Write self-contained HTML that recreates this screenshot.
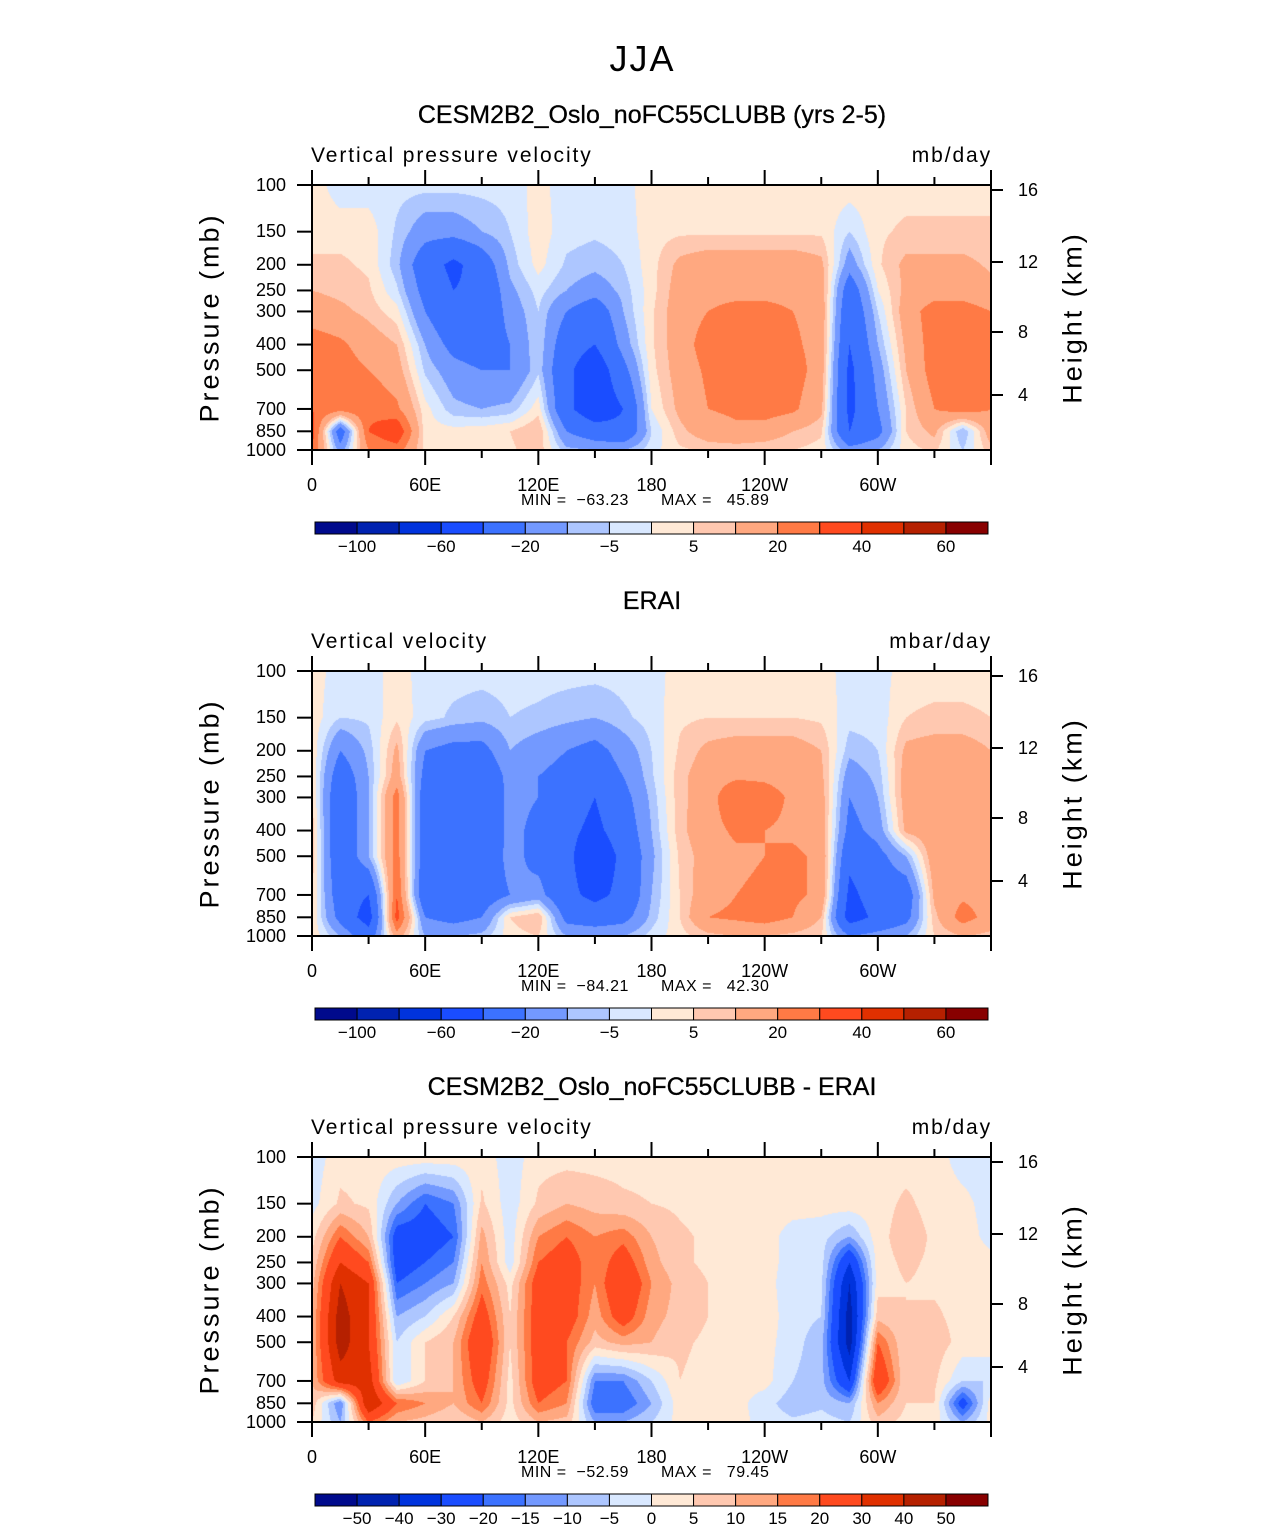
<!DOCTYPE html>
<html><head><meta charset="utf-8">
<style>
body{margin:0;background:#fff;}
#root{position:relative;width:1285px;height:1531px;overflow:hidden;background:#fff;font-family:"Liberation Sans",sans-serif;color:#000;}
.t{position:absolute;white-space:nowrap;}
canvas{position:absolute;}
svg{position:absolute;left:0;top:0;}
</style></head>
<body>
<div id="root">
<div class="t" style="left:0;width:1285px;text-align:center;top:38px;font-size:36px;font-weight:300;letter-spacing:2px;">JJA</div>
</div>
<script>
const lons=[0,15,30,45,60,75,90,105,120,135,150,165,180,195,210,225,240,255,270,285,300,315,330,345,360];
const levels=[100,150,200,250,300,400,500,700,850,1000];
const xTickLabels=["0","60E","120E","180","120W","60W"];
const pTicks=[100,150,200,250,300,400,500,700,850,1000];
const hTicks=[16,12,8,4];
const contourA=[-100,-80,-60,-40,-20,-10,-5,0,5,10,20,30,40,50,60];
const labelsA=["-100","-60","-20","-5","5","20","40","60"];
const contourB=[-50,-40,-30,-20,-15,-10,-5,0,5,10,15,20,30,40,50];
const labelsB=["-50","-40","-30","-20","-15","-10","-5","0","5","10","15","20","30","40","50"];
const colors=["#000a8c","#0022b0","#0033dd","#1a4dff","#3c72ff","#7399ff","#adc6ff","#d9e8ff","#ffe9d6","#ffc8b0","#ffa880","#ff7a45","#ff4a1f","#e03000","#b52000","#880000"];
const modelField=[
[3,-3,-3,-3,-3,-3,-3,-3,2,-3,-3,-2,3,3,3,3,3,3,3,3,3,3,3,3,3],
[3,3,3,-6,-15,-15,-10,-5,3,-3,-4,-3,3,4,4,4,4,4,4,-5,4,6,6,6,6],
[6,6,4,-8,-30,-45,-30,-8,2,-6,-8,-5,3,12,15,15,15,15,12,-15,4,12,12,12,9],
[10,8,6,-4,-25,-40,-35,-12,-3,-10,-15,-8,3,14,18,18,18,18,15,-30,0,12,15,15,12],
[15,12,8,2,-20,-35,-35,-15,-5,-20,-30,-10,4,15,20,22,22,20,16,-35,-5,15,25,25,20],
[25,22,15,10,-10,-25,-30,-20,-5,-30,-40,-15,4,15,25,25,25,22,16,-40,-10,12,25,28,25],
[28,25,20,14,-6,-15,-20,-20,-6,-35,-55,-25,3,14,22,25,25,25,15,-45,-15,10,25,30,25],
[30,25,28,22,2,-8,-10,-8,3,-35,-55,-40,0,12,20,22,25,22,12,-45,-20,5,20,25,20],
[35,-30,30,40,2,2,3,5,10,-20,-30,-35,-5,8,15,18,15,10,6,-40,-25,5,12,-10,15],
[30,-15,20,25,3,3,3,4,8,-8,-10,-10,-2,4,6,6,6,5,3,-15,-10,3,6,-5,8]];
const obsField=[
[3,-3,-3,3,-3,-3,-3,-3,-3,-3,-3,-3,-3,3,3,3,3,3,3,-3,-3,3,3,3,3],
[3,-5,-4,4,-3,-6,-8,-5,-6,-8,-10,-6,-3,4,5,5,5,5,4,-3,-3,5,6,6,5],
[4,-20,-8,12,-20,-25,-25,-10,-15,-20,-25,-15,-5,6,12,14,14,14,10,-8,-5,12,14,14,10],
[5,-30,-10,15,-25,-30,-35,-15,-20,-25,-30,-20,-6,8,15,18,18,16,12,-15,-8,14,16,16,12],
[6,-35,-10,25,-30,-30,-40,-15,-20,-30,-40,-25,-8,8,15,30,25,18,14,-20,-10,14,16,16,14],
[8,-35,-10,25,-30,-30,-40,-15,-25,-35,-45,-30,-10,8,16,22,20,18,15,-25,-15,12,16,16,15],
[8,-35,-10,25,-30,-30,-35,-15,-25,-35,-55,-35,-12,6,14,18,20,22,18,-35,-25,-10,16,20,15],
[6,-30,-40,30,-35,-35,-30,-20,-15,-35,-45,-35,-10,5,16,20,22,22,18,-45,-30,-30,12,18,16],
[5,-25,-50,35,-20,-25,-20,5,10,-25,-30,-25,-8,5,20,22,25,20,10,-50,-35,-25,8,25,15],
[4,-10,-30,15,-10,-10,-8,3,5,-10,-10,-10,-3,3,8,10,10,8,5,-20,-15,-10,5,10,8]];
const diffField=[
[-3,3,3,3,3,3,3,-3,3,3,3,3,3,3,3,3,3,3,3,3,3,3,3,-3,-3],
[-2,6,4,-10,-20,-15,6,-3,6,10,8,6,5,4,3,3,2,2,2,3,3,6,3,2,-3],
[3,20,10,-25,-25,-20,12,-3,15,20,15,18,10,6,4,3,2,-2,-3,-10,3,8,4,3,-2],
[6,30,20,-25,-20,-15,15,-3,20,25,15,25,12,6,4,3,2,-2,-3,-30,3,6,4,3,2],
[8,40,30,-20,-15,-10,18,3,25,25,15,30,15,8,5,3,2,-3,-4,-40,3,5,4,3,2],
[10,45,30,-10,-5,5,25,5,25,25,12,25,12,8,5,4,3,-3,-5,-45,8,5,6,3,2],
[10,45,30,-5,5,10,30,5,25,20,8,12,10,6,4,3,2,-3,-8,-45,20,5,8,3,3],
[10,35,35,-5,5,10,25,3,25,20,-15,-15,-5,5,3,2,2,-5,-8,-30,30,5,6,-5,-5],
[8,-15,40,20,15,10,20,3,20,15,-20,-20,-10,3,2,2,-3,-8,-6,-10,15,5,5,-25,3],
[5,-10,20,10,8,5,10,2,10,8,-10,-10,-5,2,2,2,-2,-4,-3,-5,8,3,3,-10,2]];

const panels=[
 {T:185,title:"CESM2B2_Oslo_noFC55CLUBB (yrs 2-5)",left:"Vertical pressure velocity",right:"mb/day",field:modelField,cont:contourA,lab:labelsA,labIdx:[0,2,4,6,8,10,12,14],mmin:"\u221263.23",mmax:"45.89",key:"model"},
 {T:671,title:"ERAI",left:"Vertical velocity",right:"mbar/day",field:obsField,cont:contourA,lab:labelsA,labIdx:[0,2,4,6,8,10,12,14],mmin:"\u221284.21",mmax:"42.30",key:"obs"},
 {T:1157,title:"CESM2B2_Oslo_noFC55CLUBB - ERAI",left:"Vertical pressure velocity",right:"mb/day",field:diffField,cont:contourB,lab:labelsB,labIdx:[0,1,2,3,4,5,6,7,8,9,10,11,12,13,14],mmin:"\u221252.59",mmax:"79.45",key:"diff"}
];
const X0=312,W=679,H=265;
const lg=p=>Math.log10(p);
function yOfP(p,T){return T+(lg(p)-2)*H;}
function xOfLon(l){return X0+l/360*W;}
const root=document.getElementById('root');
function txt(s,x,y,fs,align,name,extra){
  const d=document.createElement('div');d.className='t';d.textContent=s;
  
  
  d.style.fontSize=fs+'px';d.style.top=(y-fs*0.58)+'px';
  if(align==='c'){d.style.left=(x-300)+'px';d.style.width='600px';d.style.textAlign='center';}
  else if(align==='r'){d.style.left=(x-300)+'px';d.style.width='300px';d.style.textAlign='right';}
  else d.style.left=x+'px';
  if(extra)d.style.cssText+=extra;
  root.appendChild(d);return d;
}
function hex(c){return [parseInt(c.substr(1,2),16),parseInt(c.substr(3,2),16),parseInt(c.substr(5,2),16)];}
const NS="http://www.w3.org/2000/svg";
panels.forEach(P=>{
  const T=P.T;
  txt(P.title,652,T-70,25,'c',P.key+'-title','-webkit-text-stroke:0.3px #000;');
  txt(P.left,311,T-29,21,'l',P.key+'-variable-label','letter-spacing:1.9px;');
  txt(P.right,992,T-29,21,'r',P.key+'-units-label','letter-spacing:1.9px;');
  const cv=document.createElement('canvas');cv.width=W;cv.height=H;
  cv.style.left=X0+'px';cv.style.top=T+'px';
  
  
  root.appendChild(cv);
  const ctx=cv.getContext('2d');const img=ctx.createImageData(W,H);
  const lvl=levels.map(lg);const F=P.field;
  const rgb=colors.map(hex);
  for(let py=0;py<H;py++){
    const lp=2+(py+0.5)/H;
    let r=0;while(r<lvl.length-2&&lp>lvl[r+1])r++;
    let fy=(lp-lvl[r])/(lvl[r+1]-lvl[r]);fy=Math.max(0,Math.min(1,fy));
    for(let px=0;px<W;px++){
      const lon=(px+0.5)/W*360;
      let c=Math.min(lons.length-2,Math.floor(lon/15));
      const fx=(lon-lons[c])/(lons[c+1]-lons[c]);
      const v=(F[r][c]*(1-fx)+F[r][c+1]*fx)*(1-fy)+(F[r+1][c]*(1-fx)+F[r+1][c+1]*fx)*fy;
      let i=0;while(i<P.cont.length&&v>=P.cont[i])i++;
      const col=rgb[i];const k=(py*W+px)*4;
      img.data[k]=col[0];img.data[k+1]=col[1];img.data[k+2]=col[2];img.data[k+3]=255;
    }
  }
  ctx.putImageData(img,0,0);
  const svg=document.createElementNS(NS,'svg');svg.setAttribute('width',1285);svg.setAttribute('height',1531);
  
  
  root.appendChild(svg);
  function ln(x1,y1,x2,y2,name){const l=document.createElementNS(NS,'line');l.setAttribute('x1',x1);l.setAttribute('y1',y1);l.setAttribute('x2',x2);l.setAttribute('y2',y2);l.setAttribute('stroke','#000');l.setAttribute('stroke-width',2);
    
    
    svg.appendChild(l);}
  const fr=document.createElementNS(NS,'rect');fr.setAttribute('x',X0);fr.setAttribute('y',T);fr.setAttribute('width',W);fr.setAttribute('height',H);fr.setAttribute('fill','none');fr.setAttribute('stroke','#000');fr.setAttribute('stroke-width',2);
  
  
  svg.appendChild(fr);
  for(let l=0;l<=360;l+=30){
    const x=xOfLon(l);const major=l%60===0;const len=major?15:8;
    ln(x,T,x,T-len,'top-tick');ln(x,T+H,x,T+H+len,'bottom-tick');
  }
  xTickLabels.forEach((s,i)=>txt(s,xOfLon(i*60),T+300,18,'c',P.key+'-x-tick-label'));
  pTicks.forEach(p=>{const y=yOfP(p,T);ln(X0-15,y,X0,y,'y-tick');txt(String(p),286,y,18,'r',P.key+'-y-tick-label');});
  const hY=[T+5,T+77,T+147,T+210];
  hTicks.forEach((h,i)=>{const y=hY[i];ln(X0+W,y,X0+W+12,y,'height-tick');txt(String(h),1018,y,18,'l',P.key+'-height-tick-label');});
  txt("Pressure (mb)",210,T+133,27,'c',P.key+'-y-axis-title','letter-spacing:3px;transform:rotate(-90deg);');
  txt("Height (km)",1073,T+133,27,'c',P.key+'-height-axis-title','letter-spacing:3px;transform:rotate(-90deg);');
  txt("MIN =  "+P.mmin,521,T+316,16,'l',P.key+'-min-label','letter-spacing:0.5px;white-space:pre;');
  txt("MAX =   "+P.mmax,661,T+316,16,'l',P.key+'-max-label','letter-spacing:0.5px;white-space:pre;');
  const cbX=315,cbW=673,cbY=T+337,bw=cbW/16;
  colors.forEach((c,i)=>{const r=document.createElementNS(NS,'rect');r.setAttribute('x',cbX+i*bw);r.setAttribute('y',cbY);r.setAttribute('width',bw);r.setAttribute('height',12);r.setAttribute('fill',c);r.setAttribute('stroke','#000');r.setAttribute('stroke-width',1);
    
    
    svg.appendChild(r);});
  P.labIdx.forEach((bi,j)=>{txt(P.lab[j].replace('-','\u2212'),cbX+(bi+1)*bw,T+362,17,'c',P.key+'-colorbar-label');});
});
</script>
</body></html>
